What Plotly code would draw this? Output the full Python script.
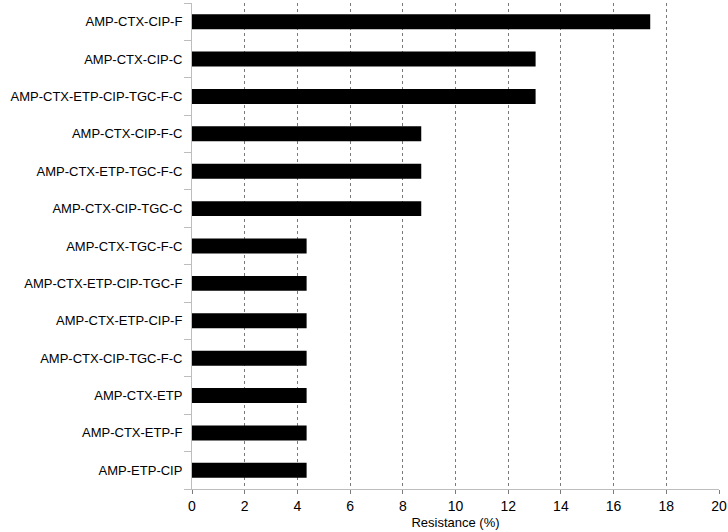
import plotly.graph_objects as go

# resistance profiles, top to bottom as shown
profiles = [
    "AMP-CTX-CIP-F",
    "AMP-CTX-CIP-C",
    "AMP-CTX-ETP-CIP-TGC-F-C",
    "AMP-CTX-CIP-F-C",
    "AMP-CTX-ETP-TGC-F-C",
    "AMP-CTX-CIP-TGC-C",
    "AMP-CTX-TGC-F-C",
    "AMP-CTX-ETP-CIP-TGC-F",
    "AMP-CTX-ETP-CIP-F",
    "AMP-CTX-CIP-TGC-F-C",
    "AMP-CTX-ETP",
    "AMP-CTX-ETP-F",
    "AMP-ETP-CIP",
]
resistance = [17.39, 13.04, 13.04, 8.70, 8.70, 8.70,
              4.35, 4.35, 4.35, 4.35, 4.35, 4.35, 4.35]

x_ticks = list(range(0, 21, 2))

fig = go.Figure(go.Bar(
    x=resistance,
    y=profiles,
    orientation="h",
    width=0.4,
    marker=dict(color="black", line=dict(width=0)),
))

fig.update_layout(
    width=728, height=532,
    margin=dict(l=192, r=9, t=3, b=43, autoexpand=False),
    paper_bgcolor="white",
    plot_bgcolor="white",
    font=dict(family="Liberation Sans, Arial, sans-serif", size=13, color="black"),
    showlegend=False,
    bargap=0.6,
)

fig.update_xaxes(
    range=[0, 20],
    tickvals=x_ticks,
    showgrid=True,
    gridcolor="#7a7a7a",
    griddash="dot",
    gridwidth=1,
    showline=True,
    linecolor="#bdbdbd",
    linewidth=1,
    ticks="outside",
    ticklen=4,
    tickcolor="#7a7a7a",
    zeroline=False,
    automargin=False,
    tickfont=dict(size=14),
    title=dict(text="Resistance (%)", standoff=5, font=dict(size=13)),
)

fig.update_yaxes(
    categoryorder="array",
    categoryarray=profiles[::-1],
    autorange=True,
    tickson="boundaries",
    ticks="outside",
    ticklen=7,
    tickcolor="#bdbdbd",
    showgrid=False,
    showline=True,
    linecolor="#bdbdbd",
    linewidth=1,
    automargin=False,
    ticklabelstandoff=6,
)

# drop the default page margin so the figure sits at the window's corner
fig.write_html(
    "out.html",
    config={"displayModeBar": False},
    post_script="document.body.style.margin='0';",
)
